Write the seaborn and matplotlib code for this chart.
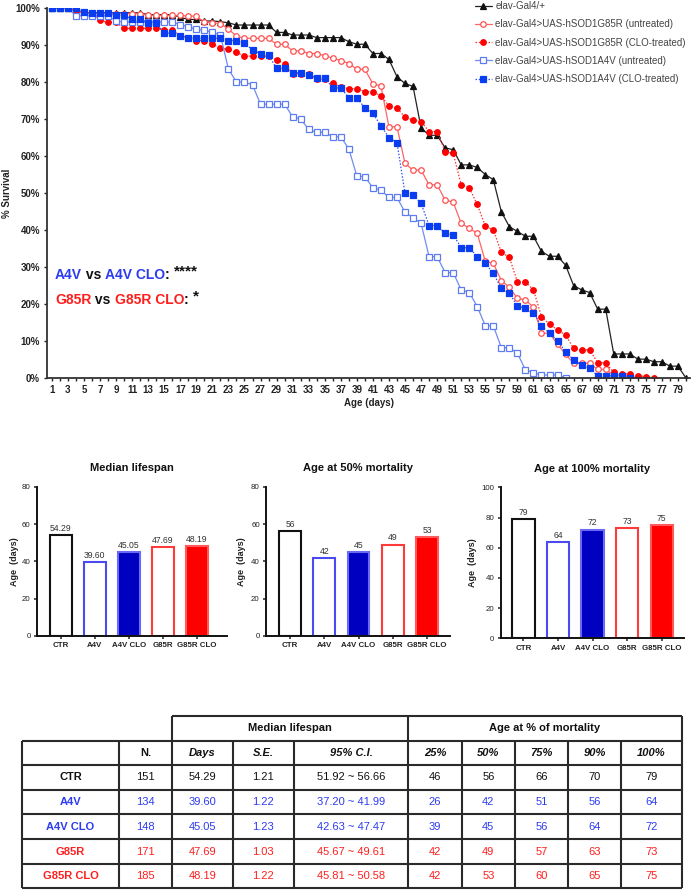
import matplotlib
matplotlib.use('Agg')
import matplotlib.pyplot as plt
import seaborn as sns
import pandas as pd

sns.set_theme(style='ticks')
plt.rcParams['font.family'] = ['Liberation Sans', 'DejaVu Sans']

# ---------------- survival data (% alive per day) ----------------
ctr_surv = [100, 100, 100, 99.2, 98.7, 98.7, 98.7, 98.7, 98.7, 98.7,
            98.7, 98.7, 98.2, 98.2, 98.2, 98.2, 97.5, 96.9, 96.9, 96.5,
            96.5, 96.3, 96.0, 95.4, 95.4, 95.4, 95.4, 95.4, 93.4, 93.4,
            92.7, 92.7, 92.7, 92.0, 92.0, 92.0, 92.0, 90.9, 90.2, 90.2,
            87.7, 87.7, 86.1, 81.4, 79.6, 78.8, 67.6, 65.6, 65.6, 62.2,
            61.7, 57.6, 57.6, 56.9, 55.0, 53.6, 44.9, 40.9, 39.6, 38.3,
            38.3, 34.2, 32.9, 32.9, 30.5, 25.0, 23.8, 23.1, 18.6, 18.6,
            6.5, 6.5, 6.5, 5.1, 5.1, 4.4, 4.4, 3.2, 3.2, 0.0]
g85r_surv = [100, 100, 100, 99.2, 98.5, 98.5, 98.5, 98.5, 98.5, 98.5,
             98.5, 98.5, 98.0, 98.0, 98.0, 98.0, 98.0, 97.8, 97.8, 96.2,
             96.0, 95.8, 94.3, 92.4, 91.8, 91.8, 91.8, 91.8, 90.2, 90.2,
             88.4, 88.4, 87.7, 87.7, 87.1, 86.4, 85.8, 85.0, 83.5, 83.4,
             79.5, 78.9, 67.9, 67.9, 58.0, 56.2, 56.2, 52.2, 52.2, 48.1,
             47.5, 41.8, 40.5, 39.1, 31.5, 31.0, 26.3, 24.5, 21.5, 21.1,
             19.1, 12.1, 12.1, 9.1, 6.4, 4.0, 4.0, 4.0, 2.3, 2.3,
             0.8, 0.8, 0.5, 0.0]
g85r_clo_surv = [100, 100, 100, 99.2, 99.0, 98.5, 96.7, 96.1, 96.1, 94.5,
                 94.5, 94.5, 94.5, 94.5, 94.0, 94.0, 92.5, 92.0, 91.2, 91.2,
                 90.2, 89.2, 88.8, 88.0, 87.0, 87.0, 87.0, 87.0, 85.9, 85.0,
                 82.2, 82.2, 82.2, 80.7, 80.7, 79.6, 78.7, 78.2, 78.2, 77.4,
                 77.4, 76.2, 73.6, 72.9, 70.5, 69.7, 69.3, 66.6, 66.6, 61.2,
                 60.7, 52.2, 51.4, 46.9, 41.1, 40.0, 34.0, 32.6, 26.0, 26.0,
                 23.8, 16.6, 14.5, 13.0, 11.6, 8.0, 7.6, 7.6, 4.1, 4.1,
                 1.5, 1.1, 1.1, 0.6, 0.4, 0.0]
a4v_surv = [100, 100, 100, 97.9, 97.9, 97.9, 97.9, 97.9, 96.5, 96.2,
            96.2, 96.2, 96.2, 96.2, 96.2, 96.2, 95.5, 94.9, 94.2, 94.0,
            93.4, 92.7, 83.5, 80.0, 80.0, 79.2, 74.0, 74.0, 74.0, 74.0,
            70.6, 70.0, 67.2, 66.4, 66.4, 65.2, 65.2, 61.9, 54.6, 54.4,
            51.4, 50.8, 48.8, 48.8, 44.8, 43.3, 41.8, 32.8, 32.8, 28.5,
            28.5, 23.8, 23.1, 19.3, 14.1, 14.1, 8.2, 8.2, 6.7, 2.2,
            1.4, 0.8, 0.8, 0.8, 0.0]
a4v_clo_surv = [100, 100, 100, 100, 99.0, 98.6, 98.6, 98.6, 98.0, 98.0,
                97.0, 97.0, 96.0, 96.0, 93.2, 93.2, 92.5, 91.8, 91.8, 91.8,
                91.8, 91.8, 91.2, 91.2, 90.6, 88.6, 87.7, 87.3, 83.7, 83.7,
                82.5, 82.5, 81.8, 81.1, 81.1, 78.4, 78.4, 75.8, 75.8, 72.9,
                71.5, 68.2, 65.0, 63.6, 49.9, 49.5, 47.2, 41.2, 41.2, 39.1,
                38.7, 35.2, 35.2, 32.8, 31.0, 28.3, 24.2, 22.9, 19.5, 18.8,
                17.5, 14.1, 12.1, 10.0, 7.1, 4.9, 3.5, 2.6, 0.6, 0.6,
                0.6, 0.6, 0.0]

legend_labels = ['elav-Gal4/+',
                 'elav-Gal4>UAS-hSOD1G85R (untreated)',
                 'elav-Gal4>UAS-hSOD1G85R (CLO-treated)',
                 'elav-Gal4>UAS-hSOD1A4V (untreated)',
                 'elav-Gal4>UAS-hSOD1A4V (CLO-treated)']

# ---------------- summary table data ----------------
groups = ['CTR', 'A4V', 'A4V CLO', 'G85R', 'G85R CLO']
n_flies = ['151', '134', '148', '171', '185']
median_days = [54.29, 39.60, 45.05, 47.69, 48.19]
median_se = ['1.21', '1.22', '1.23', '1.03', '1.22']
median_ci = ['51.92 ~ 56.66', '37.20 ~ 41.99', '42.63 ~ 47.47', '45.67 ~ 49.61', '45.81 ~ 50.58']
age_25 = [46, 26, 39, 42, 42]
age_50 = [56, 42, 45, 49, 53]
age_75 = [66, 51, 56, 57, 60]
age_90 = [70, 56, 64, 63, 65]
age_100 = [79, 64, 72, 73, 75]

# ---------------- styles ----------------
BLUE_TXT = '#2D3CF0'
RED_TXT = '#FF1E1E'
series_styles = [
    dict(color='#222222', linestyle='-', marker='^', mfc='#111111', mec='#111111', ms=3.8),
    dict(color='#FF6464', linestyle='-', marker='o', mfc='white', mec='#FF5050', ms=4.0),
    dict(color='#FF3030', linestyle=(0, (1.2, 1.4)), marker='o', mfc='#FF0000', mec='#FF0000', ms=4.0),
    dict(color='#6F8CF2', linestyle='-', marker='s', mfc='white', mec='#5C7CF0', ms=3.7),
    dict(color='#2B55F0', linestyle=(0, (1.2, 1.4)), marker='s', mfc='#0A3CF0', mec='#0A3CF0', ms=3.7),
]
series_data = [ctr_surv, g85r_surv, g85r_clo_surv, a4v_surv, a4v_clo_surv]

W, H = 694, 890
fig = plt.figure(figsize=(W / 100, H / 100), dpi=100)
fig.patch.set_facecolor('white')

# ---------------- survival panel ----------------
ax = fig.add_axes([47 / W, 1 - 378 / H, 643 / W, 370 / H])
for vals, lab, st in zip(series_data, legend_labels, series_styles):
    days = list(range(1, len(vals) + 1))
    sns.lineplot(x=days, y=vals, ax=ax, label=lab, color=st['color'],
                 linestyle=st['linestyle'], marker=st['marker'],
                 markerfacecolor=st['mfc'], markeredgecolor=st['mec'],
                 markeredgewidth=0.9, markersize=st['ms'], linewidth=0.9,
                 errorbar=None)
ax.set_xlim(0.4, 80.5)
ax.set_ylim(0, 100)
ax.set_yticks(range(0, 101, 10))
ax.set_yticklabels([f'{v}%' for v in range(0, 101, 10)])
ax.set_xticks(range(1, 81))
ax.set_xticklabels([str(d) if d % 2 == 1 else '' for d in range(1, 81)])
ax.tick_params(axis='both', length=2.5, width=1, labelsize=7, pad=2.5,
               colors='#222222')
for t in ax.get_xticklabels() + ax.get_yticklabels():
    t.set_fontweight('bold')
for sp in ['top', 'right']:
    ax.spines[sp].set_visible(False)
for sp in ['left', 'bottom']:
    ax.spines[sp].set_linewidth(1.3)
    ax.spines[sp].set_color('#333333')
ax.set_ylabel('% Survival', fontsize=7, fontweight='bold', color='#222222')
ax.yaxis.set_label_coords((12 - 47) / 643, 0.5)
ax.set_xlabel('Age (days)', fontsize=7, fontweight='bold', color='#222222')
ax.xaxis.set_label_coords(0.5, (378 - 397.5) / 370)

leg = ax.legend(loc='upper left', bbox_to_anchor=(475 / W, 1 - 1 / H),
                bbox_transform=fig.transFigure, frameon=False, fontsize=7,
                handlelength=1.7, handletextpad=0.4, labelspacing=0.85,
                borderpad=0, borderaxespad=0, numpoints=1)
for t in leg.get_texts():
    t.set_color('#444444')

# statistics annotations
def chain(parts, x_px, bottom_px):
    prev = None
    for txt, col, size, rise in parts:
        if prev is None:
            prev = fig.text(x_px / W, 1 - bottom_px / H, txt, color=col,
                            fontsize=size, fontweight='bold', va='bottom', ha='left')
        else:
            prev = ax.annotate(txt, xy=(1, 0), xycoords=prev, xytext=(0, rise),
                               textcoords='offset points', color=col,
                               fontsize=size, fontweight='bold', va='bottom', ha='left')

chain([('A4V', BLUE_TXT, 10, 0), (' vs ', '#111111', 10, 0), ('A4V CLO', BLUE_TXT, 10, 0),
       (': ', '#111111', 10, 0), ('****', '#111111', 11, 2.5)], 55, 282)
chain([('G85R', RED_TXT, 10, 0), (' vs ', '#111111', 10, 0), ('G85R CLO', RED_TXT, 10, 0),
       (': ', '#111111', 10, 0), ('*', '#111111', 11, 2.5)], 55, 307)

# ---------------- bar panels ----------------
bar_faces = ['white', 'white', '#0000C0', 'white', '#FF0000']
bar_edges = ['#111111', '#4A4AF0', '#6A6AF5', '#FF3A3A', '#FF5A5A']


def bar_panel(rect, vals, labels, ymax, title, xlim, ylab_x):
    bx = fig.add_axes(rect)
    df = pd.DataFrame({'group': groups, 'value': vals})
    sns.barplot(data=df, x='group', y='value', hue='group',
                palette=dict(zip(groups, bar_faces)), ax=bx, width=0.64,
                legend=False, saturation=1)
    for cont, ec, lab in zip(bx.containers, bar_edges, labels):
        for p in cont:
            p.set_edgecolor(ec)
            p.set_linewidth(1.5)
        bx.bar_label(cont, labels=[lab], padding=1.5, fontsize=6.2, color='#333333')
    bx.set_ylim(0, ymax)
    bx.set_yticks(range(0, ymax + 1, 20))
    bx.set_xlim(*xlim)
    for sp in ['top', 'right']:
        bx.spines[sp].set_visible(False)
    for sp in ['left', 'bottom']:
        bx.spines[sp].set_linewidth(1.4)
        bx.spines[sp].set_color('#111111')
    bx.tick_params(axis='both', length=2.5, width=1.1, labelsize=5.7, pad=2,
                   colors='#222222')
    for t in bx.get_xticklabels():
        t.set_fontweight('bold')
    bx.set_xlabel('')
    bx.set_ylabel('Age  (days)', fontsize=6.5, fontweight='bold', color='#222222')
    bx.yaxis.set_label_coords(ylab_x, 0.5)
    bx.set_title(title, fontsize=8, fontweight='bold', pad=11, color='#111111')
    return bx


bar_panel([37 / W, 1 - 636 / H, 190 / W, 149.3 / H], median_days,
          [f'{v:.2f}' for v in median_days], 80, 'Median lifespan',
          (-0.7, 4.88), (19 - 37) / 190)
bar_panel([266 / W, 1 - 636 / H, 184 / W, 149.3 / H], age_50,
          [str(v) for v in age_50], 80, 'Age at 50% mortality',
          (-0.7, 4.67), (245.7 - 266) / 184)
bar_panel([500.7 / W, 1 - 638.3 / H, 183 / W, 151 / H], age_100,
          [str(v) for v in age_100], 100, 'Age at 100% mortality',
          (-0.66, 4.64), (477.3 - 500.7) / 183)

# ---------------- table ----------------
tax = fig.add_axes([0, 0, 1, 1])
tax.set_xlim(0, W)
tax.set_ylim(H, 0)
tax.axis('off')
tax.patch.set_alpha(0)

cols = [21.7, 119.3, 171.7, 232.7, 294, 408.3, 461.7, 515, 568.3, 620.7, 681.7]
rows = [740.7, 765, 790, 814.3, 839.3, 864, 888.3]
LC = '#2A2A2A'
LW = 1.5
tax.hlines(716, 171.7, 681.7, color=LC, lw=LW)
tax.vlines([171.7, 408.3, 681.7], 716, 740.7, color=LC, lw=LW)
tax.hlines(rows, cols[0], cols[-1], color=LC, lw=LW)
tax.vlines(cols, rows[0], rows[-1], color=LC, lw=LW)

tax.text((171.7 + 408.3) / 2, 728.3, 'Median lifespan', ha='center', va='center',
         fontsize=8, fontweight='bold', color='#111111')
tax.text((408.3 + 681.7) / 2, 728.3, 'Age at % of mortality', ha='center', va='center',
         fontsize=8, fontweight='bold', color='#111111')
centers = [(cols[i] + cols[i + 1]) / 2 for i in range(len(cols) - 1)]
headers = ['', 'N.', 'Days', 'S.E.', '95% C.I.', '25%', '50%', '75%', '90%', '100%']
for i, h in enumerate(headers):
    tax.text(centers[i], (rows[0] + rows[1]) / 2, h, ha='center', va='center',
             fontsize=8, fontweight='bold', style='normal' if i <= 1 else 'italic',
             color='#111111')
row_colors = ['#111111', BLUE_TXT, BLUE_TXT, RED_TXT, RED_TXT]
for r in range(len(groups)):
    yc = (rows[r + 1] + rows[r + 2]) / 2
    cells = [groups[r], n_flies[r], f'{median_days[r]:.2f}', median_se[r], median_ci[r],
             str(age_25[r]), str(age_50[r]), str(age_75[r]), str(age_90[r]), str(age_100[r])]
    for i, c in enumerate(cells):
        tax.text(centers[i], yc, c, ha='center', va='center', fontsize=8,
                 fontweight='bold' if i == 0 else 'normal', color=row_colors[r])

fig.savefig('out.png', dpi=100)
